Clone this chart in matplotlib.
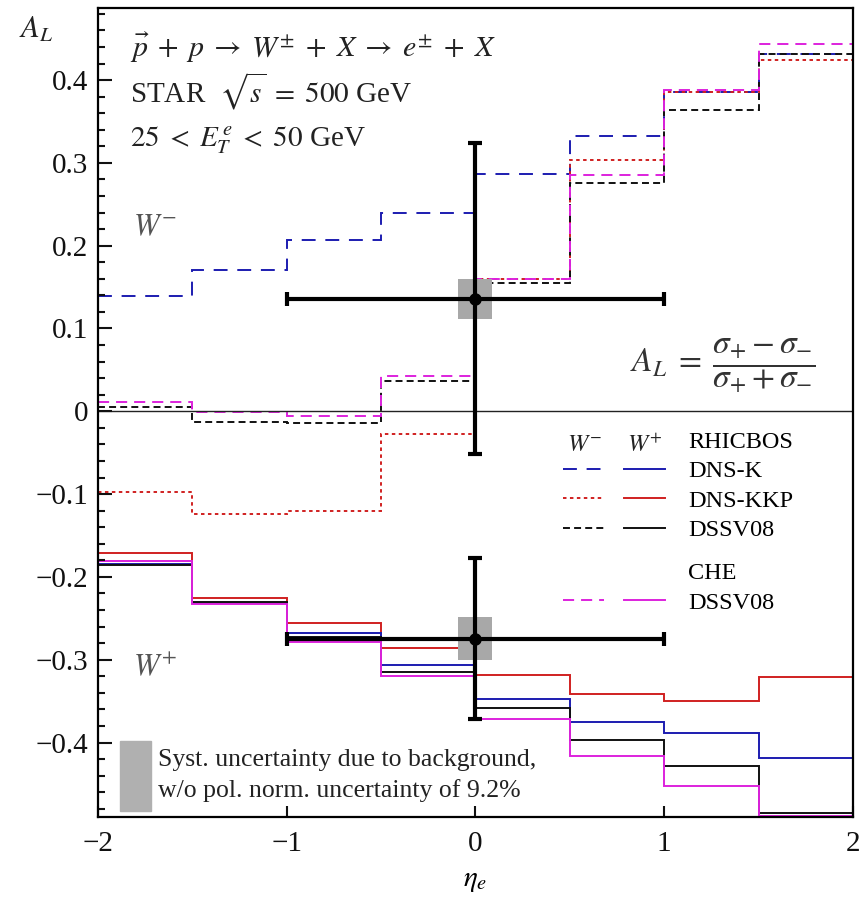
import matplotlib
matplotlib.use('Agg')
import matplotlib.pyplot as plt
from matplotlib.lines import Line2D
from matplotlib.legend_handler import HandlerTuple
from matplotlib.patches import Rectangle
from matplotlib.ticker import MultipleLocator, FuncFormatter

plt.rcParams['font.family'] = ['Liberation Serif', 'DejaVu Serif']
plt.rcParams['mathtext.fontset'] = 'stix'
plt.rcParams['lines.scale_dashes'] = False

# eta bins
edges = [-2, -1.5, -1, -0.5, 0, 0.5, 1, 1.5, 2]

# W- predictions
dnsk_wm = [0.139, 0.171, 0.207, 0.240, 0.286, 0.333, 0.386, 0.432]
dnskkp_wm = [-0.097, -0.124, -0.121, -0.028, 0.160, 0.303, 0.386, 0.424]
dssv_wm = [0.005, -0.013, -0.014, 0.037, 0.155, 0.276, 0.364, 0.432]
che_wm = [0.011, -0.001, -0.006, 0.043, 0.160, 0.285, 0.388, 0.444]

# W+ predictions
dnsk_wp = [-0.184, -0.231, -0.268, -0.307, -0.348, -0.375, -0.389, -0.419]
dnskkp_wp = [-0.171, -0.225, -0.256, -0.286, -0.318, -0.342, -0.350, -0.321]
dssv_wp = [-0.186, -0.230, -0.273, -0.315, -0.358, -0.397, -0.428, -0.485]
che_wp = [-0.181, -0.233, -0.279, -0.320, -0.372, -0.416, -0.452, -0.489]

# STAR measurements (W-, W+)
eta_pts = [0.0, 0.0]
al_pts = [0.136, -0.2745]
eta_err = [1.0, 1.0]
al_err = [0.188, 0.097]
al_syst = [0.024, 0.026]

blue = '#1c1cb0'
red = '#d02020'
black = '#111111'
pink = '#dd22dd'

fig = plt.figure(figsize=(8.61, 9.02), dpi=100)
ax = fig.add_axes([0.1138, 0.0942, 0.8769, 0.8969])

wm_styles = [
    (dnsk_wm, blue, (0, (10, 7))),
    (dnskkp_wm, red, (0, (2.5, 2.5))),
    (dssv_wm, black, (0, (5, 3))),
    (che_wm, pink, (0, (8, 5))),
]
wp_styles = [
    (dnskkp_wp, red),
    (dnsk_wp, blue),
    (dssv_wp, black),
    (che_wp, pink),
]

for vals, col, ls in wm_styles:
    ax.stairs(vals, edges, baseline=None, color=col, lw=1.4, linestyle=ls)
for vals, col in wp_styles:
    ax.stairs(vals, edges, baseline=None, color=col, lw=1.4)

ax.axhline(0, color='#222222', lw=1.0, zorder=1)

# systematic boxes and data points
ax.bar(eta_pts, [2 * s for s in al_syst],
       bottom=[a - s for a, s in zip(al_pts, al_syst)],
       width=0.18, color='#a8a8a8', zorder=4)
ax.errorbar(eta_pts, al_pts, xerr=eta_err, yerr=al_err, fmt='o', color='k',
            ms=8, lw=3, capsize=5, capthick=3, zorder=5)

ax.set_xlim(-2, 2)
ax.set_ylim(-0.49, 0.487)
ax.set_xticks([-2, -1, 0, 1, 2])
ax.xaxis.set_major_formatter(FuncFormatter(lambda v, p: f'{v:.0f}'.replace('-', '\u2212')))
ax.yaxis.set_major_locator(MultipleLocator(0.1))
ax.yaxis.set_minor_locator(MultipleLocator(0.02))
ax.yaxis.set_major_formatter(FuncFormatter(
    lambda v, p: '0' if abs(v) < 1e-9 else f'{v:.1f}'.replace('-', '\u2212')))
ax.tick_params(axis='both', which='both', direction='in', width=1.5,
               labelsize=21, colors='#111111')
ax.tick_params(axis='y', which='major', length=10, pad=7)
ax.tick_params(axis='y', which='minor', length=5)
ax.tick_params(axis='x', which='major', length=8, pad=10)
for sp in ax.spines.values():
    sp.set_linewidth(1.6)

ax.set_xlabel(r'$\eta_e$', fontsize=21, labelpad=8)
fig.text(0.022, 0.958, r'$A_L$', fontsize=22, va='baseline', color='#222222')

txt = '#222222'
ax.text(0.042, 0.939,
        r'$\vec{p}\;+\;p\;\rightarrow\;W^{\pm}\;+\;X\;\rightarrow\;e^{\pm}\;+\;X$',
        transform=ax.transAxes, fontsize=21.5, va='baseline', color=txt)
ax.text(0.042, 0.883, r'STAR  $\sqrt{s}\;=\;500$ GeV',
        transform=ax.transAxes, fontsize=21, va='baseline', color=txt)
ax.text(0.042, 0.829, r'$25\;<\;E_T^{\,e}\;<\;50$ GeV',
        transform=ax.transAxes, fontsize=21, va='baseline', color=txt)
ax.text(0.046, 0.728, r'$W^{-}$', transform=ax.transAxes, fontsize=22,
        va='center', color='#555555')
ax.text(0.046, 0.184, r'$W^{+}$', transform=ax.transAxes, fontsize=22,
        va='center', color='#555555')
ax.text(0.705, 0.558,
        r'$A_L\;=\;\dfrac{\sigma_{+}-\sigma_{-}}{\sigma_{+}+\sigma_{-}}$',
        transform=ax.transAxes, fontsize=24, va='center', color='#333333')

# systematic-uncertainty key
ax.add_patch(Rectangle((0.029, 0.008), 0.041, 0.086, transform=ax.transAxes,
                       color='#b0b0b0', zorder=3))
ax.text(0.079, 0.063, 'Syst. uncertainty due to background,',
        transform=ax.transAxes, fontsize=18.5, va='baseline', color=txt)
ax.text(0.079, 0.025, 'w/o pol. norm. uncertainty of 9.2%',
        transform=ax.transAxes, fontsize=18.5, va='baseline', color=txt)

# legend: dashed = W-, solid = W+
blank = Line2D([], [], color='none')
def pair(col, ls):
    return (Line2D([], [], color=col, lw=1.4, linestyle=ls),
            Line2D([], [], color=col, lw=1.4))

leg_kw = dict(handler_map={tuple: HandlerTuple(ndivide=None, pad=0.82)},
              loc='upper left', frameon=False, handlelength=4.2,
              handletextpad=0.95, labelspacing=0.3, borderpad=0,
              borderaxespad=0, fontsize=17.5)
leg1 = ax.legend([(blank, blank), pair(blue, (0, (10, 7))),
                  pair(red, (0, (2.5, 2.5))), pair(black, (0, (5, 3)))],
                 ['RHICBOS', 'DNS-K', 'DNS-KKP', 'DSSV08'],
                 bbox_to_anchor=(0.616, 0.477), **leg_kw)
ax.add_artist(leg1)
ax.legend([(blank, blank), pair(pink, (0, (8, 5)))], ['CHE', 'DSSV08'],
          bbox_to_anchor=(0.616, 0.315), **leg_kw)
ax.text(0.644, 0.459, r'$W^{-}$', transform=ax.transAxes, fontsize=17.5,
        ha='center', va='center', color=txt)
ax.text(0.724, 0.459, r'$W^{+}$', transform=ax.transAxes, fontsize=17.5,
        ha='center', va='center', color=txt)

fig.savefig('out.png', dpi=100)
